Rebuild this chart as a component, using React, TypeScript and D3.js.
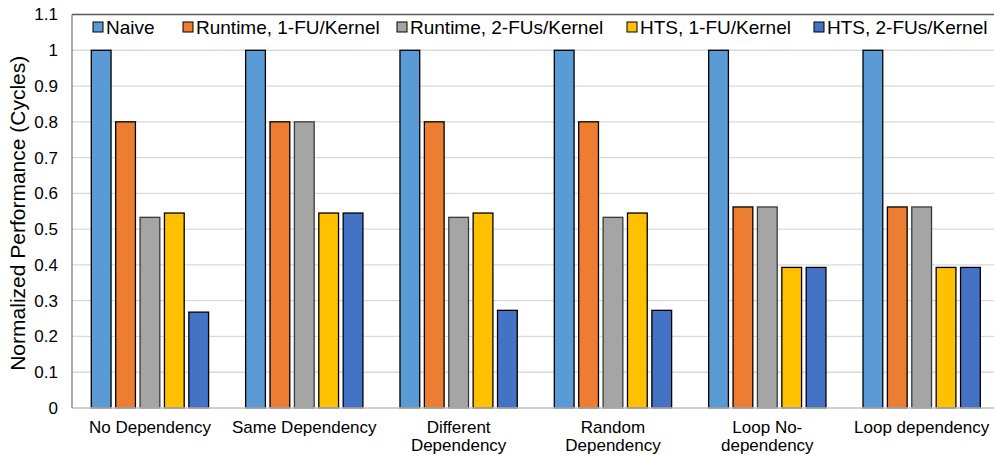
import React from "react";
import * as d3 from "d3";

const categories = [
  ["No Dependency"],
  ["Same Dependency"],
  ["Different", "Dependency"],
  ["Random", "Dependency"],
  ["Loop No-", "dependency"],
  ["Loop dependency"],
];
const seriesNames = [
  "Naive",
  "Runtime, 1-FU/Kernel",
  "Runtime, 2-FUs/Kernel",
  "HTS, 1-FU/Kernel",
  "HTS, 2-FUs/Kernel",
];
const naive = [1, 1, 1, 1, 1, 1];
const runtime1 = [0.8, 0.8, 0.8, 0.8, 0.562, 0.562];
const runtime2 = [0.533, 0.8, 0.533, 0.533, 0.562, 0.562];
const hts1 = [0.545, 0.545, 0.545, 0.545, 0.393, 0.393];
const hts2 = [0.268, 0.545, 0.273, 0.273, 0.393, 0.393];
const seriesValues = [naive, runtime1, runtime2, hts1, hts2];
const colors = ["#5B9BD5", "#ED7D31", "#A5A5A5", "#FFC000", "#4472C4"];
const yTicks = [0, 0.1, 0.2, 0.3, 0.4, 0.5, 0.6, 0.7, 0.8, 0.9, 1, 1.1];
const legendX = [93, 183, 397, 627, 814];

export default function App() {
  const W = 994, H = 457;
  const left = 72, right = 994, top = 14.5, bottom = 408;
  const y = d3.scaleLinear().domain([0, 1.1]).range([bottom, top]);
  const x0 = d3.scaleBand<number>().domain(d3.range(categories.length)).range([left, 999.6]).paddingInner(0.24).paddingOuter(0.125);
  const x1 = d3.scaleBand<number>().domain(d3.range(seriesNames.length)).range([0, x0.bandwidth()]).paddingInner(0.19);
  const font = "Arial, 'Liberation Sans', sans-serif";
  return (
    <svg width={W} height={H} style={{ position: "absolute", left: 0, top: 0, background: "#fff" }} fontFamily={font}>
      {yTicks.filter(t => t > 0 && t < 1.05).map(t => (
        <line key={t} x1={left} x2={right} y1={y(t)} y2={y(t)} stroke="#d9d9d9" strokeWidth={1.3} />
      ))}
      <line x1={left} x2={right} y1={y(1.1)} y2={y(1.1)} stroke="#595959" strokeWidth={1.3} />
      {yTicks.map(t => (
        <text key={t} x={58} y={y(t)} dy="0.35em" textAnchor="end" fontSize={17} fill="#000">{d3.format("~g")(t)}</text>
      ))}
      {categories.map((c, i) => (
        <g key={i}>
          {seriesValues.map((vals, s) => (
            <rect key={s}
              x={(x0(i) as number) + (x1(s) as number)}
              y={y(vals[i])}
              width={x1.bandwidth()}
              height={bottom - y(vals[i])}
              fill={colors[s]}
              stroke={s === 2 ? "#3a3a3a" : "#000"}
              strokeWidth={1.3} />
          ))}
        </g>
      ))}
      <line x1={left} x2={right} y1={bottom} y2={bottom} stroke="#bfbfbf" strokeWidth={1.3} />
      <line x1={left} x2={left} y1={top} y2={bottom} stroke="#7f7f7f" strokeWidth={1.3} />
      {categories.map((c, i) => (
        <text key={i} x={(x0(i) as number) + x0.bandwidth() / 2} y={433} textAnchor="middle" fontSize={17} fill="#000">
          {c.map((line, j) => (
            <tspan key={j} x={(x0(i) as number) + x0.bandwidth() / 2} dy={j === 0 ? 0 : 18}>{line}</tspan>
          ))}
        </text>
      ))}
      {seriesNames.map((n, s) => (
        <g key={s}>
          <rect x={legendX[s]} y={22} width={10} height={10} fill={colors[s]} stroke="#000" strokeWidth={1} />
          <text x={legendX[s] + 13} y={27} dy="0.35em" fontSize={19} fill="#000">{n}</text>
        </g>
      ))}
      <text transform={`translate(25, ${(top + bottom) / 2 + 2}) rotate(-90)`} textAnchor="middle" fontSize={21} fill="#000">Normalized Performance (Cycles)</text>
    </svg>
  );
}
